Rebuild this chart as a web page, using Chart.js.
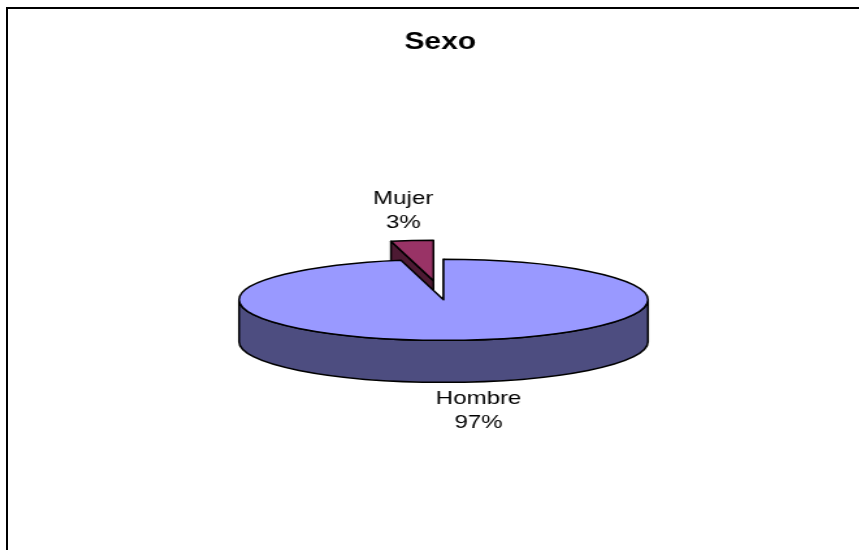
<!DOCTYPE html>
<html>
<head>
<meta charset="utf-8">
<title>Sexo</title>
<script src="https://cdn.jsdelivr.net/npm/chart.js@4"></script>
<style>
    html, body { margin: 0; background: #fff; overflow: hidden; }
    body { width: 859px; height: 550px; position: relative; }
    #frame { position: absolute; left: 6px; top: 7px; width: 900px; height: 600px; border: solid #000; border-width: 2px 0 0 2px; }
    /* the reference is an old picture stretched sideways, so stretch the whole chart the same way */
    #stretch { position: absolute; left: 8px; top: 9px; width: 665px; height: 560px; transform: scale(1.3, 1); transform-origin: 0 0; }
</style>
</head>
<body>
<div id="frame"></div>
<div id="stretch"><canvas id="myChart" width="665" height="560"></canvas></div>
<script>
// Data (Mujer first so that Hombre paints over it)
const categories = ['Mujer', 'Hombre'];
const values = [1, 29];
const chartTitle = 'Sexo';

const topColors = ['#993366', '#9999ff'];
const wallColors = ['#4d1a33', '#4d4d80'];

const RADIUS = 157.3;
const TILT = 0.2575;      // vertical squash of the pie
const DEPTH = 42;         // height of the side wall
const PIE_SHIFT = 2.5;    // pie sits a little right of the title
const LINE = '#000';

const total = values.reduce((a, b) => a + b, 0);

const explode = [74, 0];  // how far each slice is pulled out
// where the label block sits, relative to the pie centre
const labelOffsets = [{ x: -31, y: -89 }, { x: 27, y: 111 }];

let pieX = 0;
let pieY = 0;

// slice tip as it ends up on screen, after the squash
function sliceTip(arc) {
    return { x: arc.x, y: pieY + (arc.y - pieY) * TILT };
}

function rimPoint(tip, angle) {
    return { x: tip.x + Math.cos(angle) * RADIUS, y: tip.y + Math.sin(angle) * RADIUS * TILT };
}

function strokePath(ctx) {
    ctx.strokeStyle = LINE;
    ctx.lineWidth = 1.5;
    ctx.lineJoin = 'round';
    ctx.stroke();
}

function drawWalls(ctx, arc, i) {
    const tip = sliceTip(arc);
    ctx.fillStyle = wallColors[i];

    // cut face on the start edge of the slice
    const p = rimPoint(tip, arc.startAngle);
    ctx.beginPath();
    ctx.moveTo(tip.x, tip.y);
    ctx.lineTo(p.x, p.y);
    ctx.lineTo(p.x, p.y + DEPTH);
    ctx.lineTo(tip.x, tip.y + DEPTH);
    ctx.closePath();
    ctx.fill();
    strokePath(ctx);

    // front rim, only the part facing the viewer
    const from = Math.max(arc.startAngle, 0);
    const to = Math.min(arc.endAngle, Math.PI);
    if (to > from) {
        ctx.beginPath();
        ctx.ellipse(tip.x, tip.y, RADIUS, RADIUS * TILT, 0, from, to);
        ctx.ellipse(tip.x, tip.y + DEPTH, RADIUS, RADIUS * TILT, 0, to, from, true);
        ctx.closePath();
        ctx.fill();
        strokePath(ctx);
    }
}

function drawOutline(ctx, arc) {
    const tip = sliceTip(arc);
    ctx.beginPath();
    ctx.moveTo(tip.x, tip.y);
    ctx.ellipse(tip.x, tip.y, RADIUS, RADIUS * TILT, 0, arc.startAngle, arc.endAngle);
    ctx.closePath();
    strokePath(ctx);
}

const pie3d = {
    id: 'pie3d',
    afterDatasetsUpdate(chart) {
        chart.getDatasetMeta(0).data.forEach((arc, i) => {
            pieX = arc.x + PIE_SHIFT;
            pieY = arc.y;
            const mid = (arc.startAngle + arc.endAngle) / 2;
            arc.x = pieX + Math.cos(mid) * explode[i];
            arc.y = pieY + Math.sin(mid) * explode[i];
        });
    },
    beforeDatasetsDraw(chart) {
        const ctx = chart.ctx;
        chart.getDatasetMeta(0).data.forEach((arc, i) => drawWalls(ctx, arc, i));
        // the library draws the slices as flat circles, squash them here
        ctx.save();
        ctx.translate(pieX, pieY);
        ctx.scale(1, TILT);
        ctx.translate(-pieX, -pieY);
    },
    afterDatasetsDraw(chart) {
        const ctx = chart.ctx;
        const arcs = chart.getDatasetMeta(0).data;
        ctx.restore();
        arcs.forEach(arc => drawOutline(ctx, arc));

        ctx.fillStyle = '#000';
        ctx.font = '18.5px "Liberation Sans", Arial, sans-serif';
        ctx.textAlign = 'center';
        ctx.textBaseline = 'middle';
        categories.forEach((name, i) => {
            const x = pieX + labelOffsets[i].x;
            const y = pieY + labelOffsets[i].y;
            ctx.fillText(name, x, y - 12);
            ctx.fillText(Math.round(values[i] / total * 100) + '%', x, y + 12);
        });
    }
};

new Chart(document.getElementById('myChart'), {
    type: 'pie',
    data: {
        labels: categories,
        datasets: [{
            data: values,
            backgroundColor: topColors,
            borderWidth: 0,
            radius: RADIUS
        }]
    },
    options: {
        responsive: false,
        animation: false,
        events: [],
        rotation: -360 * values[0] / total,
        layout: { padding: { bottom: 26 } },
        plugins: {
            legend: { display: false },
            tooltip: { enabled: false },
            title: {
                display: true,
                text: chartTitle,
                color: '#000',
                font: { family: '"Liberation Sans", Arial, sans-serif', size: 23, weight: 'bold' },
                padding: { top: 20, bottom: 0 }
            }
        }
    },
    plugins: [pie3d]
});
</script>
</body>
</html>
